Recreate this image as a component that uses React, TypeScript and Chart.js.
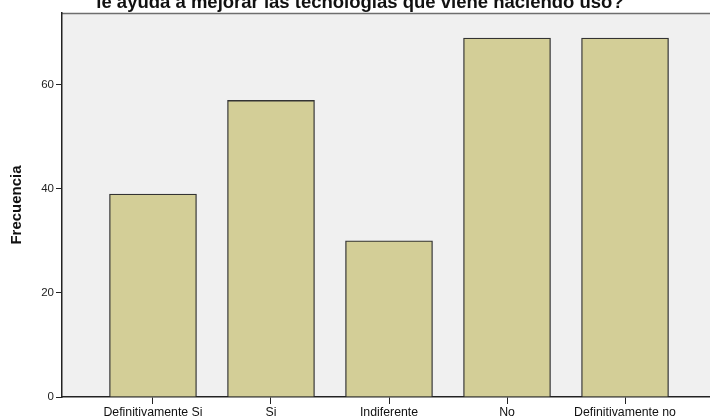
import React, { useEffect, useRef } from "react";
import { Chart, registerables } from "chart.js";

Chart.register(...registerables);

const categories = ["Definitivamente Si", "Si", "Indiferente", "No", "Definitivamente no"];
const frequencies = [39, 57, 30, 69, 69];
const yTicks = [0, 20, 40, 60];
const titleText = "le ayuda a mejorar las tecnologías que viene haciendo uso?";
const yTitle = "Frecuencia";

const FONT = "'Liberation Sans', Arial, sans-serif";

const bgPlugin = {
  id: "bgPlugin",
  beforeDraw(chart: any) {
    const { ctx, chartArea } = chart;
    ctx.save();
    ctx.fillStyle = "#f0f0f0";
    ctx.fillRect(chartArea.left, chartArea.top, chartArea.right - chartArea.left, chartArea.bottom - chartArea.top);
    ctx.strokeStyle = "#6e6e6e";
    ctx.lineWidth = 1.5;
    ctx.beginPath();
    ctx.moveTo(chartArea.left, chartArea.top + 0.5);
    ctx.lineTo(chartArea.right, chartArea.top + 0.5);
    ctx.stroke();
    ctx.restore();
  },
  afterDraw(chart: any) {
    const { ctx } = chart;
    ctx.save();
    ctx.font = `bold 18.5px ${FONT}`;
    ctx.fillStyle = "#111";
    ctx.textAlign = "center";
    ctx.textBaseline = "alphabetic";
    ctx.fillText(titleText, 360, 8);
    ctx.restore();
  },
};

export default function App() {
  const ref = useRef<HTMLCanvasElement>(null);
  useEffect(() => {
    const chart = new Chart(ref.current!, {
      type: "bar",
      data: {
        datasets: [
          {
            data: frequencies.map((v, i) => ({ x: i, y: v })),
            backgroundColor: "#d3ce97",
            borderColor: "#333333",
            borderWidth: 1.3,
            barThickness: 87,
          },
        ],
      },
      options: {
        animation: false,
        responsive: false,
        maintainAspectRatio: false,
        layout: { padding: { top: 13, left: 0, right: 0, bottom: 0 } },
        plugins: { legend: { display: false }, tooltip: { enabled: false }, title: { display: false } },
        scales: {
          x: {
            type: "linear",
            offset: false,
            min: -0.771,
            max: 4.72,
            afterBuildTicks: (scale: any) => {
              scale.ticks = categories.map((_, i) => ({ value: i }));
            },
            afterFit: (scale: any) => {
              scale.height = 22;
            },
            ticks: {
              autoSkip: false,
              maxRotation: 0,
              padding: 1,
              color: "#111",
              font: { family: FONT, size: 12.3 },
              callback: (v: any) => categories[v] ?? "",
            },
            grid: { offset: false, drawOnChartArea: false, drawTicks: true, tickLength: 7, color: "#222" },
            border: { display: true, color: "#222", width: 1.5 },
          },
          y: {
            min: 0,
            max: 73.8,
            afterBuildTicks: (scale: any) => {
              scale.ticks = yTicks.map((v) => ({ value: v }));
            },
            afterFit: (scale: any) => {
              scale.width = 62;
            },
            ticks: {
              padding: 2,
              color: "#222",
              font: { family: FONT, size: 11.5 },
            },
            grid: { drawOnChartArea: false, drawTicks: true, tickLength: 6, color: "#222" },
            border: { display: true, color: "#222", width: 1.5 },
            title: {
              display: true,
              text: yTitle,
              color: "#111",
              font: { family: FONT, size: 15, weight: "bold" },
              padding: { top: 8, bottom: 0 },
            },
          },
        },
      },
      plugins: [bgPlugin],
    } as any);
    return () => chart.destroy();
  }, []);
  return (
    <div style={{ position: "absolute", left: 0, top: 0, width: 710, height: 419, background: "#fff" }}>
      <canvas ref={ref} width={710} height={419} style={{ display: "block" }} />
    </div>
  );
}
